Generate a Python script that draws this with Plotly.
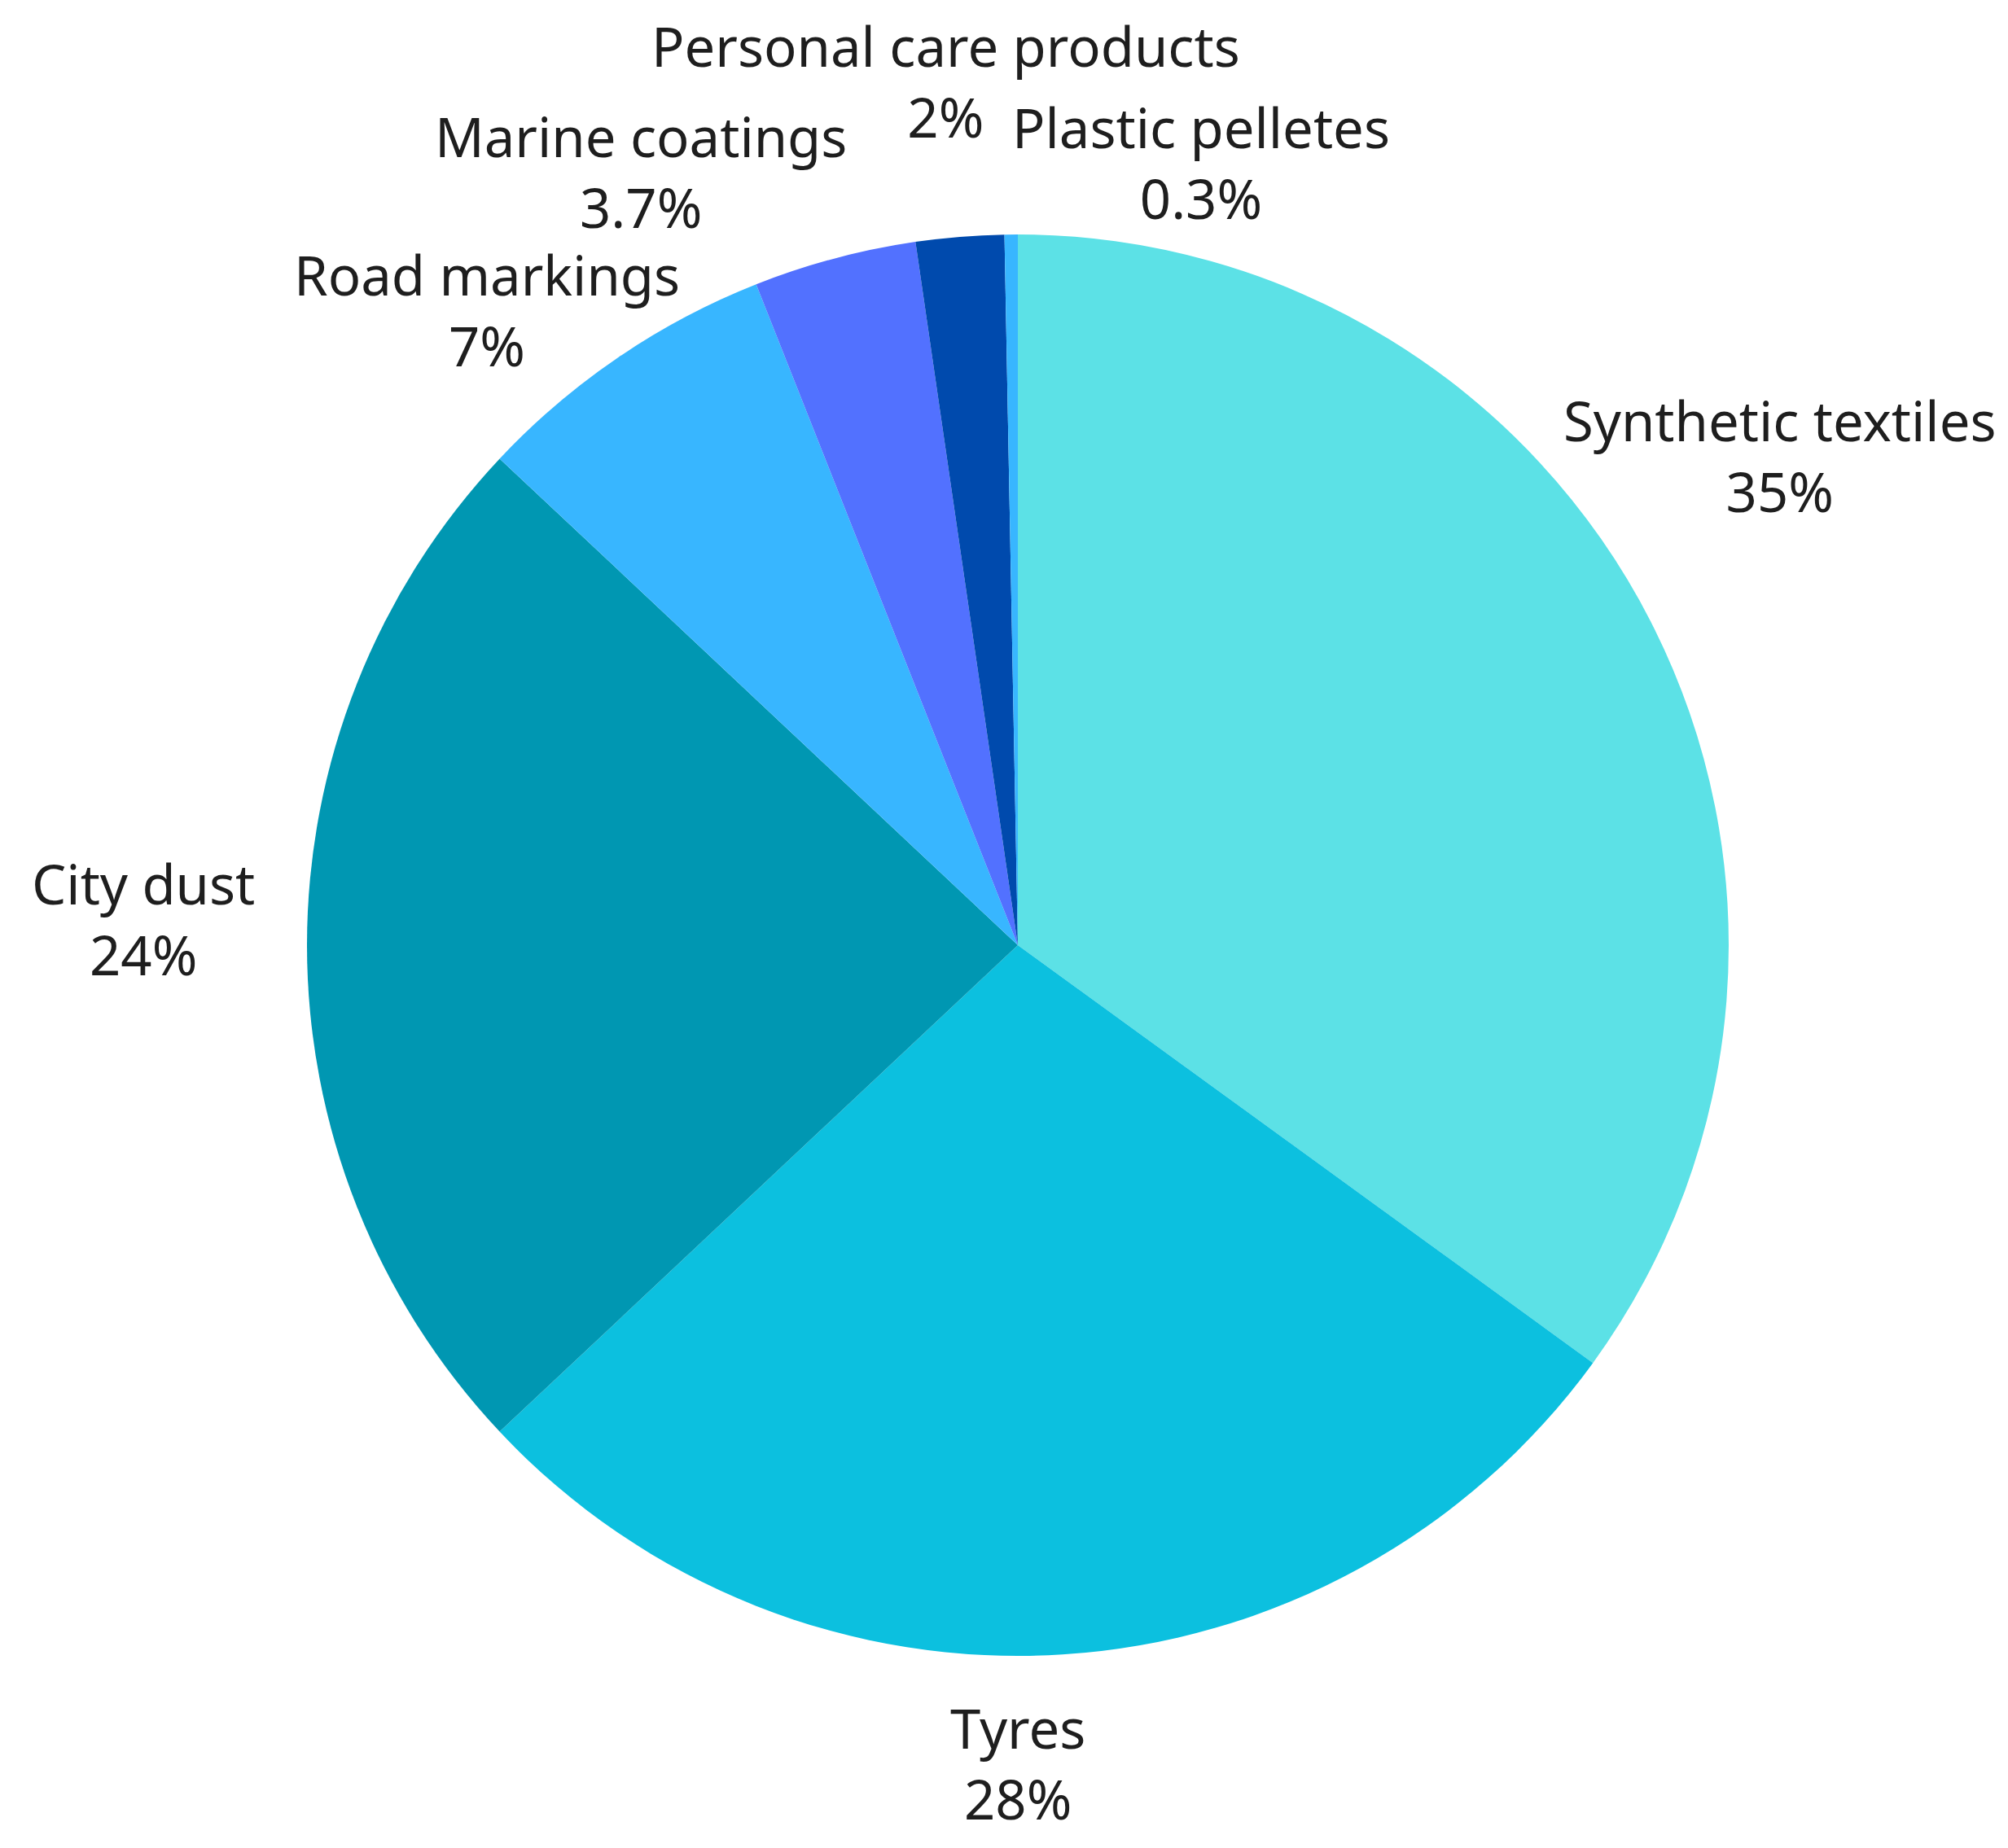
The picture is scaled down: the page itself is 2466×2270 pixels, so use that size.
import plotly.graph_objects as go

W, H = 2466, 2270

labels = ["Synthetic textiles", "Tyres", "City dust", "Road markings",
          "Marine coatings", "Personal care products", "Plastic pelletes"]
values = [35, 28, 24, 7, 3.7, 2, 0.3]
value_text = ["35%", "28%", "24%", "7%", "3.7%", "2%", "0.3%"]
colors = ["#5ce1e6", "#0cc0df", "#0097b2", "#38b6ff", "#5271ff", "#004aad", "#38b6ff"]

# label anchor centres in figure pixels (layout, not data)
label_pos = [(2178, 551), (1242, 2157), (168, 1120), (590, 373),
             (779, 202), (1153, 92), (1467, 192)]

fig = go.Figure(go.Pie(
    labels=labels,
    values=values,
    sort=False,
    direction="clockwise",
    rotation=0,
    marker=dict(colors=colors, line=dict(width=0)),
    textinfo="none",
    hoverinfo="label+percent",
    showlegend=False,
    domain=dict(x=[366 / W, 2118 / W], y=[1 - 2026 / H, 1 - 280 / H]),
))

for lab, vt, (px, py) in zip(labels, value_text, label_pos):
    fig.add_annotation(
        x=px / W, y=1 - py / H, xref="paper", yref="paper",
        xanchor="center", yanchor="middle",
        text=f"{lab}<br>{vt}", showarrow=False, align="center",
        font=dict(family="Noto Sans", size=67, color="#1e1e1e"),
    )

fig.update_layout(
    width=W, height=H,
    margin=dict(l=0, r=0, t=0, b=0),
    paper_bgcolor="white",
    plot_bgcolor="white",
)

fig.write_html("out.html")
